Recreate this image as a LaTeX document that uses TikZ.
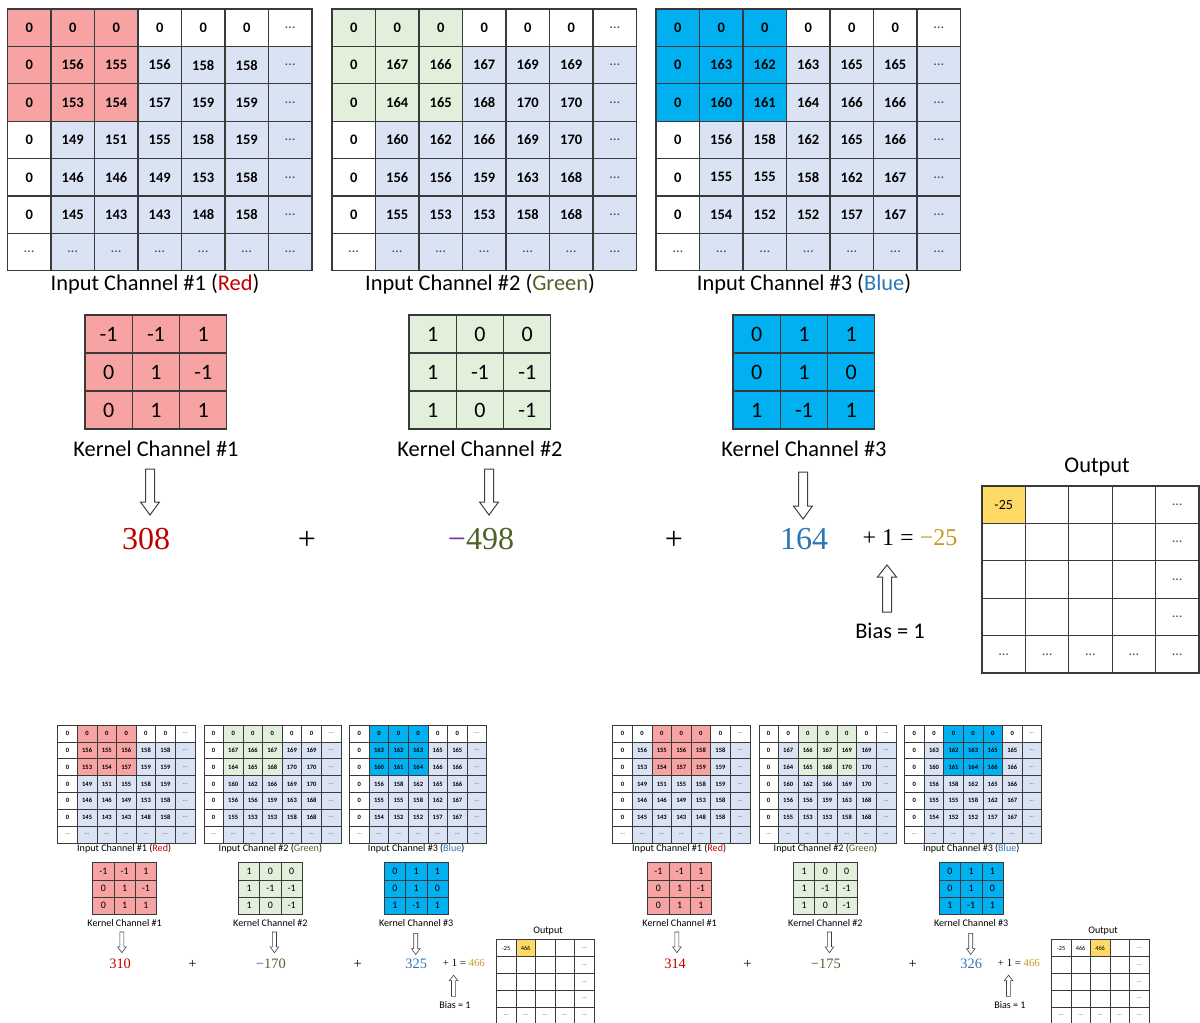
\documentclass[tikz,border=0pt]{standalone}
\usepackage{fontspec}
\setmainfont{Carlito}
\newfontfamily\numfont{Liberation Serif}
\definecolor{hlred}{HTML}{F8A3A3}
\definecolor{hlgreen}{HTML}{E2EFDA}
\definecolor{hlblue}{HTML}{00B0F0}
\definecolor{bluegray}{HTML}{DAE3F3}
\definecolor{gridc}{HTML}{3A3A3A}
\definecolor{cred}{HTML}{C00000}
\definecolor{cgreen}{HTML}{4F6228}
\definecolor{cblue}{HTML}{2E75B6}
\definecolor{cpurple}{HTML}{7030A0}
\definecolor{cgold}{HTML}{C49A22}
\definecolor{goldfill}{HTML}{FFD966}
\tikzset{
  gline/.style={line width=1.1pt},
  incell/.style={draw=gridc, gline, minimum width=43.5pt, minimum height=37.4pt, inner sep=0pt, font=\fontsize{14.5}{16}\selectfont\bfseries},
  kcell/.style={draw=gridc, gline, minimum width=47.3pt, minimum height=38pt, inner sep=0pt, font=\fontsize{22}{26}\selectfont},
  ocell/.style={draw=gridc, gline, minimum width=43.4pt, minimum height=37.4pt, inner sep=0pt, font=\fontsize{14}{16}\selectfont},
  lbl/.style={font=\fontsize{22.4}{26}\selectfont, inner sep=1pt},
  bignum/.style={font=\numfont\fontsize{32}{36}\selectfont, inner sep=1pt},
  eqn/.style={font=\numfont\fontsize{24}{28}\selectfont, inner sep=1pt},
  harrow/.style={draw=black!75, line width=1pt, fill=white},
}
\newcommand{\dotsell}{\textcolor{black!70}{\mdseries\ldots}}
% input grid: name, x0, highlight column, highlight colour, rows
\newcommand{\inputgrid}[5]{%
  \fill[bluegray] (#2+43.5,46.4) rectangle (#2+304.5,270.8);
  \fill[#4] (#2+#3*43.5,9) rectangle (#2+#3*43.5+130.5,121.2);
  \foreach \rowdata [count=\r] in {#5} {%
    \foreach \v [count=\c] in \rowdata {%
      \node[incell] (#1-\r-\c) at (#2+\c*43.5-21.75, \r*37.4-9.7) {\v};
    }%
    \node[incell] (#1-\r-7) at (#2+282.75, \r*37.4-9.7) {\dotsell};
  }%
  \foreach \c in {1,...,7} {\node[incell] (#1-7-\c) at (#2+\c*43.5-21.75, 252.1) {\dotsell};}%
}
% kernel grid: name, x0, colour, rows
\newcommand{\kernelgrid}[4]{%
  \fill[#3] (#2,315) rectangle (#2+141.9,429);
  \foreach \rowdata [count=\r] in {#4} {%
    \foreach \v [count=\c] in \rowdata {%
      \node[kcell] (#1-\r-\c) at (#2+\c*47.3-23.65, 296+\r*38) {\v};
    }%
  }%
}
% output grid: name, gold column index (0-based), three first-row texts
\newcommand{\outgrid}[5]{%
  \fill[goldfill] (982+#2*43.4,486) rectangle (982+#2*43.4+43.4,523.4);
  \node[ocell] (#1-1-1) at (1003.7,504.7) {#3};
  \node[ocell] (#1-1-2) at (1047.1,504.7) {#4};
  \node[ocell] (#1-1-3) at (1090.5,504.7) {#5};
  \node[ocell] (#1-1-4) at (1133.9,504.7) {};
  \foreach \r in {1,...,4} {\node[ocell] (#1-\r-5) at (1177.3,467.3+\r*37.4) {\dotsell};}%
  \foreach \r in {2,3,4} {\foreach \c in {1,...,4} {\node[ocell] (#1-\r-\c) at (960.3+\c*43.4,467.3+\r*37.4) {};}}%
  \foreach \c in {1,...,5} {\node[ocell] (#1-5-\c) at (960.3+\c*43.4,654.3) {\dotsell};}%
}
% hollow block arrow: x, y tail, y head base, y tip
\newcommand{\harrowd}[4]{%
  \draw[harrow] (#1-4.5,#2) -- (#1+4.5,#2) -- (#1+4.5,#3) -- (#1+9.5,#3) -- (#1,#4) -- (#1-9.5,#3) -- (#1-4.5,#3) -- cycle;%
}
% whole panel: prefix, highlight col, v1, v2 digits, v3, result, out1..3
\newcommand{\panel}[9]{%
  \inputgrid{#1-ia}{7.5}{#2}{hlred}{{0,0,0,0,0,0},{0,156,155,156,158,158},{0,153,154,157,159,159},{0,149,151,155,158,159},{0,146,146,149,153,158},{0,145,143,143,148,158}}
  \inputgrid{#1-ib}{332}{#2}{hlgreen}{{0,0,0,0,0,0},{0,167,166,167,169,169},{0,164,165,168,170,170},{0,160,162,166,169,170},{0,156,156,159,163,168},{0,155,153,153,158,168}}
  \inputgrid{#1-ic}{656}{#2}{hlblue}{{0,0,0,0,0,0},{0,163,162,163,165,165},{0,160,161,164,166,166},{0,156,158,162,165,166},{0,155,155,158,162,167},{0,154,152,152,157,167}}
  \node[lbl] (#1-la) at (155,284) {Input Channel \#1 (\textcolor{cred}{Red})};
  \node[lbl] (#1-lb) at (480,284) {Input Channel \#2 (\textcolor{cgreen}{Green})};
  \node[lbl] (#1-lc) at (804,284) {Input Channel \#3 (\textcolor{cblue}{Blue})};
  \kernelgrid{#1-ka}{85}{hlred}{{-1,-1,1},{0,1,-1},{0,1,1}}
  \kernelgrid{#1-kb}{409}{hlgreen}{{1,0,0},{1,-1,-1},{1,0,-1}}
  \kernelgrid{#1-kc}{733}{hlblue}{{0,1,1},{0,1,0},{1,-1,1}}
  \node[lbl] (#1-kla) at (156,449) {Kernel Channel \#1};
  \node[lbl] (#1-klb) at (480,449) {Kernel Channel \#2};
  \node[lbl] (#1-klc) at (804,449) {Kernel Channel \#3};
  \harrowd{150}{469}{502}{515}
  \harrowd{489}{469}{502}{515}
  \harrowd{803}{472}{506}{519}
  \harrowd{887}{612}{577}{565}
  \node[bignum] (#1-na) at (146,539) {\textcolor{cred}{#3}};
  \node[bignum] (#1-pa) at (307,540) {+};
  \node[bignum] (#1-nb) at (481,539) {\textcolor{cpurple}{−}\textcolor{cgreen}{#4}};
  \node[bignum] (#1-pb) at (674,540) {+};
  \node[bignum] (#1-nc) at (804,539) {\textcolor{cblue}{#5}};
  \node[eqn] (#1-eq) at (910,538) {+ 1 = \textcolor{cgold}{#6}};
  \node[lbl] (#1-bias) at (890,631) {Bias = 1};
  \node[lbl] (#1-ol) at (1097,467) {Output};
  \outgrid{#1-o}{#2}{#7}{#8}{#9}
}
\begin{document}
\begin{tikzpicture}[x=1pt,y=-1pt]
\useasboundingbox (0,0) rectangle (1200,1023);
\clip (0,0) rectangle (1200,1023);
\panel{PA}{0}{308}{498}{164}{−25}{-25}{}{}
\begin{scope}[shift={(54.4,720.95)}, scale=0.45, transform shape, gline/.style={line width=0.6pt}, harrow/.append style={line width=0.6pt}]
\panel{PB}{1}{310}{170}{325}{466}{-25}{466}{}
\end{scope}
\begin{scope}[shift={(609.4,720.95)}, scale=0.45, transform shape, gline/.style={line width=0.6pt}, harrow/.append style={line width=0.6pt}]
\panel{PC}{2}{314}{175}{326}{466}{-25}{466}{466}
\end{scope}
\end{tikzpicture}
\end{document}
